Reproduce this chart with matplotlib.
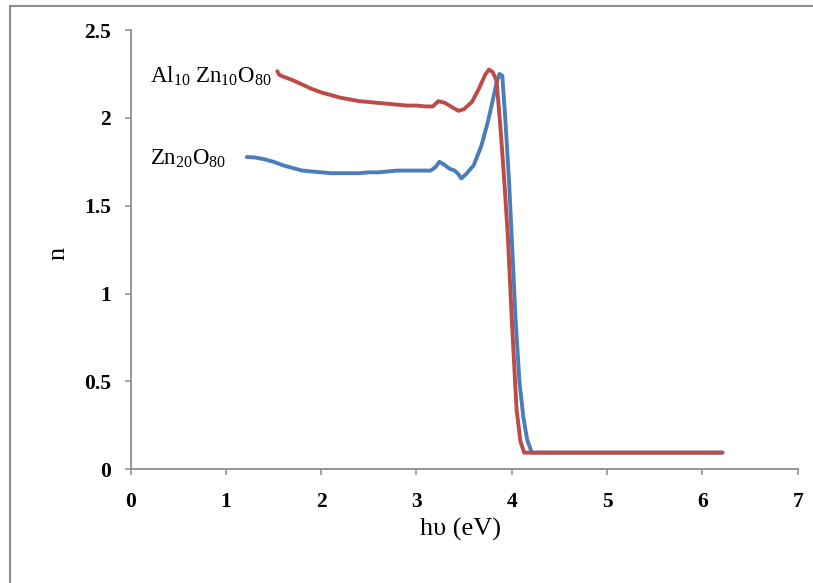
import matplotlib
matplotlib.use("Agg")
import matplotlib.pyplot as plt
from matplotlib.lines import Line2D

plt.rcParams['font.family'] = ['Liberation Serif', 'DejaVu Serif']
plt.rcParams['mathtext.fontset'] = 'custom'
plt.rcParams['mathtext.rm'] = 'Liberation Serif'
plt.rcParams['mathtext.it'] = 'Liberation Serif:italic'

# Zn20O80 (blue)
zn_x = [1.22, 1.3, 1.4, 1.5, 1.6, 1.7, 1.8, 1.9, 2.0, 2.1, 2.2, 2.3, 2.4, 2.5,
        2.6, 2.7, 2.8, 2.9, 3.0, 3.1, 3.15, 3.2, 3.24, 3.3, 3.35, 3.4, 3.44,
        3.47, 3.52, 3.6, 3.68, 3.75, 3.8, 3.84, 3.87, 3.9, 3.93, 3.97, 4.0,
        4.04, 4.08, 4.12, 4.16, 4.21, 4.6, 5.0, 5.5, 6.0, 6.21]
zn_y = [1.777, 1.775, 1.765, 1.75, 1.73, 1.715, 1.70, 1.695, 1.69, 1.685,
        1.685, 1.685, 1.685, 1.69, 1.69, 1.695, 1.70, 1.70, 1.70, 1.70, 1.70,
        1.72, 1.75, 1.73, 1.71, 1.70, 1.68, 1.655, 1.68, 1.73, 1.84, 1.98,
        2.10, 2.20, 2.25, 2.24, 2.01, 1.65, 1.31, 0.85, 0.50, 0.30, 0.17,
        0.095, 0.095, 0.095, 0.095, 0.095, 0.095]

# Al10 Zn10 O80 (red)
al_x = [1.54, 1.56, 1.6, 1.7, 1.8, 1.9, 2.0, 2.1, 2.2, 2.3, 2.4, 2.5, 2.6,
        2.7, 2.8, 2.9, 3.0, 3.1, 3.17, 3.23, 3.3, 3.36, 3.44, 3.5, 3.58,
        3.65, 3.72, 3.76, 3.8, 3.84, 3.88, 3.92, 3.96, 4.0, 4.05, 4.09, 4.13,
        4.6, 5.0, 5.5, 6.0, 6.21]
al_y = [2.265, 2.245, 2.235, 2.215, 2.19, 2.165, 2.145, 2.13, 2.115, 2.105,
        2.095, 2.09, 2.085, 2.08, 2.075, 2.07, 2.07, 2.065, 2.065, 2.095,
        2.085, 2.065, 2.04, 2.05, 2.09, 2.16, 2.245, 2.275, 2.26, 2.21, 1.95,
        1.65, 1.31, 0.85, 0.34, 0.16, 0.095, 0.095, 0.095, 0.095, 0.095, 0.095]

COL_ZN = '#4a7ebb'
COL_AL = '#be4b48'
GRAY = '#8c8c8c'

W, H = 813, 583
fig = plt.figure(figsize=(W / 100, H / 100), dpi=100)
ax = fig.add_axes([130.5 / W, 1 - 469.3 / H, (797.8 - 130.5) / W, (469.3 - 30) / H])

ax.plot(zn_x, zn_y, color=COL_ZN, lw=2.8, solid_capstyle='round')
ax.plot(al_x, al_y, color=COL_AL, lw=2.8, solid_capstyle='round')

ax.set_xlim(0, 7)
ax.set_ylim(0, 2.5)
ax.set_xticks(range(0, 8))
ax.set_yticks([0, 0.5, 1, 1.5, 2, 2.5])
ax.set_yticklabels(['0', '0.5', '1', '1.5', '2', '2.5'])

for side in ['top', 'right']:
    ax.spines[side].set_visible(False)
for side in ['left', 'bottom']:
    ax.spines[side].set_color(GRAY)
    ax.spines[side].set_linewidth(1.3)
ax.tick_params(axis='both', direction='out', length=4, width=1.1, color=GRAY,
               labelsize=15.5)
ax.tick_params(axis='x', pad=12)
ax.tick_params(axis='y', pad=10)
for lab in ax.get_xticklabels() + ax.get_yticklabels():
    lab.set_fontweight('bold')

# series labels, placed in pixel positions
fig.text(150 / W, 1 - 76 / H, r'Al$_{10}$ Zn$_{10}$O$_{80}$', fontsize=16.5,
         va='center', ha='left')
fig.text(150 / W, 1 - 159 / H, r'Zn$_{20}$O$_{80}$', fontsize=16.5,
         va='center', ha='left')
fig.text(460 / W, 1 - 529 / H, 'hυ (eV)', fontsize=19, ha='center', va='center')
fig.text(58 / W, 1 - 253 / H, 'n', fontsize=19, rotation=90, ha='center', va='center')

# outer chart frame (top and left edges)
fig.add_artist(Line2D([10 / W, 10 / W], [0, 1 - 6 / H], transform=fig.transFigure,
                      color=GRAY, lw=1.5))
fig.add_artist(Line2D([10 / W, 1], [1 - 6 / H, 1 - 6 / H], transform=fig.transFigure,
                      color=GRAY, lw=1.5))

fig.savefig('out.png', dpi=100)
